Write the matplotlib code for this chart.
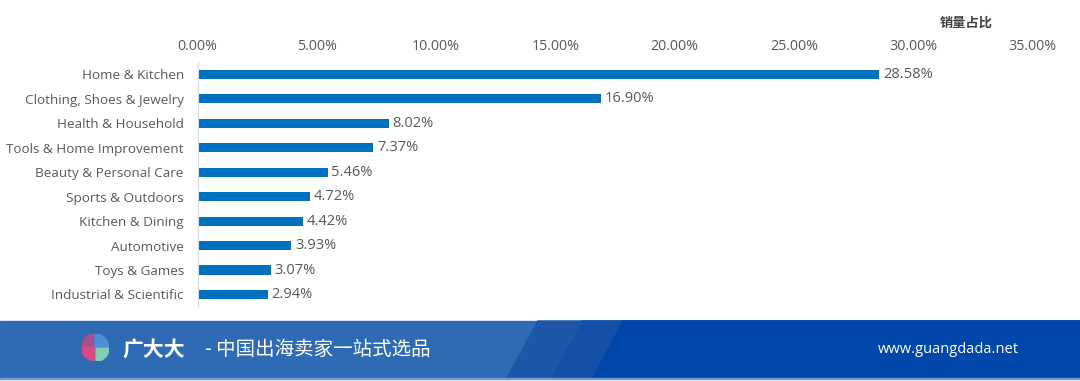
import matplotlib.pyplot as plt
from matplotlib.patches import Polygon, Wedge, Rectangle
from matplotlib.ticker import FuncFormatter

plt.rcParams['font.family'] = ['Open Sans', 'Noto Sans CJK SC', 'DejaVu Sans']

categories = ['Home & Kitchen', 'Clothing, Shoes & Jewelry', 'Health & Household',
              'Tools & Home Improvement', 'Beauty & Personal Care', 'Sports & Outdoors',
              'Kitchen & Dining', 'Automotive', 'Toys & Games', 'Industrial & Scientific']
shares = [28.58, 16.90, 8.02, 7.37, 5.46, 4.72, 4.42, 3.93, 3.07, 2.94]
x_ticks = [0, 5, 10, 15, 20, 25, 30, 35]

text_gray = '#595959'
bar_blue = '#0070c0'

fig = plt.figure(figsize=(10.8, 3.81), dpi=100)
ax = fig.add_axes([0.183, 0.195, 0.773, 0.642])

pos = list(range(len(categories)))
ax.barh(pos, shares, height=0.37, color=bar_blue)
for p, v in zip(pos, shares):
    ax.text(v + 0.15, p, f'{v:.2f}%', va='center', ha='left', fontsize=10.5, color=text_gray)

ax.set_ylim(len(categories) - 0.5, -0.5)
ax.set_xlim(0, 35)
ax.set_yticks(pos)
ax.set_yticklabels(categories, fontsize=9.7, color=text_gray)
ax.set_xticks(x_ticks)
ax.xaxis.set_major_formatter(FuncFormatter(lambda v, _: f'{v:.2f}%'))
ax.xaxis.tick_top()
ax.tick_params(axis='x', length=0, labelsize=10.3, labelcolor=text_gray, pad=6)
ax.tick_params(axis='y', length=0, pad=10)
for s in ['top', 'right', 'bottom']:
    ax.spines[s].set_visible(False)
ax.spines['left'].set_color('#d9d9d9')

fig.text(0.895, 0.94, '销量占比', fontsize=9.5, color='#404040', ha='center', va='center',
         family=['Noto Sans CJK SC', 'DejaVu Sans'], fontweight='bold')

# footer band
y0, y1 = 1 - 378 / 381, 1 - 321 / 381
W = 1080
fig.patches.append(Rectangle((0, y0), 1, y1 - y0, transform=fig.transFigure, color='#2f6bb4', zorder=0))
fig.patches.append(Polygon([(507 / W, y0), (538 / W, y1), (1, y1), (1, y0)], closed=True,
                           transform=fig.transFigure, color='#1c57a9', zorder=0))
fig.patches.append(Polygon([(552 / W, y0), (583 / W, y1), (1, y1), (1, y0)], closed=True,
                           transform=fig.transFigure, color='#1550a8', zorder=0))
fig.patches.append(Polygon([(593 / W, y0), (623 / W, y1), (1, y1), (1, y0)], closed=True,
                           transform=fig.transFigure, color='#0047ab', zorder=0))
fig.patches.append(Rectangle((0, y0 - 0.003), 1, 0.003, transform=fig.transFigure,
                             color='#6f9ad6', zorder=0))

# logo
lax = fig.add_axes([0.0755, 0.053, 0.025, 0.071], zorder=2)
lax.set_xlim(-1, 1)
lax.set_ylim(-1, 1)
lax.axis('off')
lax.add_patch(Wedge((0, 0), 1, 90, 180, color='#a8508f'))
lax.add_patch(Wedge((0, 0), 1, 0, 90, color='#4b8fd8'))
lax.add_patch(Wedge((0, 0), 1, 180, 270, color='#d84a86'))
lax.add_patch(Wedge((0.08, -0.08), 0.95, 270, 360, color='#7fd0b0'))

cjk = ['Noto Sans CJK SC', 'DejaVu Sans']
fig.text(0.113, 0.083, '广大大', fontsize=15, color='white', fontweight='bold',
         va='center', ha='left', family=cjk)
fig.text(0.19, 0.083, '- 中国出海卖家一站式选品', fontsize=14, color='white',
         va='center', ha='left', family=cjk)
fig.text(0.943, 0.083, 'www.guangdada.net', fontsize=10.5, color='white',
         va='center', ha='right', family=['Open Sans', 'DejaVu Sans'])

fig.savefig('out.png', dpi=100)
